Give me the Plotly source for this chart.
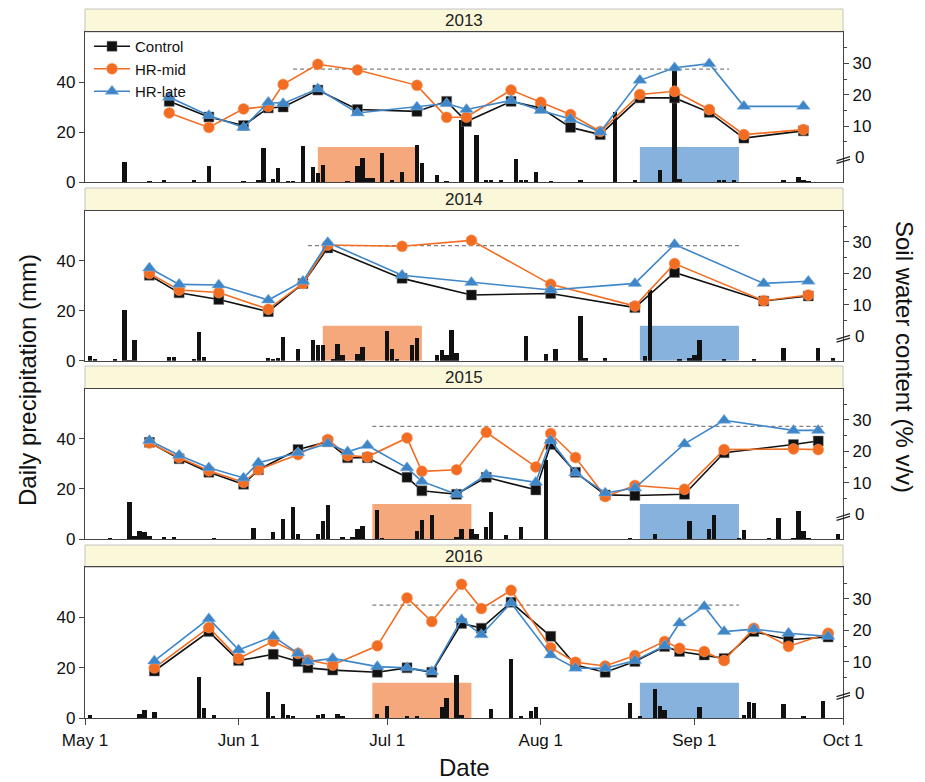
import plotly.graph_objects as go

YEARS = [2013, 2014, 2015, 2016]
MONTH_TICKS = ["05-01", "06-01", "07-01", "08-01", "09-01", "10-01"]
TICK_LABELS = ["May 1", "Jun 1", "Jul 1", "Aug 1", "Sep 1", "Oct 1"]

# ---------------- daily precipitation (mm) ----------------
rain_2013_dates = ["05-09", "05-14", "05-17", "05-23", "05-26", "06-02", "06-05", "06-06", "06-08", "06-09",
                   "06-11", "06-12", "06-14", "06-16", "06-17", "06-18", "06-23", "06-25", "06-26", "06-27",
                   "06-28", "06-30", "07-02", "07-04", "07-07", "07-08", "07-11", "07-13", "07-16", "07-19",
                   "07-21", "07-22", "07-24", "07-27", "07-28", "07-29", "07-31", "08-03", "08-09", "08-16",
                   "08-20", "08-25", "08-28", "08-29", "09-06", "09-07", "09-09", "09-19", "09-22", "09-23",
                   "09-24"]
rain_2013_mm = [8, 0.3, 0.5, 1, 6.5, 0.3, 1, 13.5, 1.3, 5.6,
                0.3, 0.3, 14.4, 6, 3.7, 7, 0.3, 6.4, 9.6, 1.7,
                1.7, 11.5, 1, 4, 14.7, 7.5, 3, 0.3, 25, 19,
                0.7, 0.7, 1, 9.3, 0.7, 1, 3.9, 0.3, 0.7, 28,
                1, 5, 47, 1.3, 0.5, 0.5, 0.7, 1, 1.9, 1,
                0.3]

rain_2014_dates = ["05-02", "05-03", "05-07", "05-09", "05-10", "05-11", "05-18", "05-19", "05-23", "05-24",
                   "05-25", "06-07", "06-08", "06-09", "06-10", "06-13", "06-16", "06-17", "06-18", "06-20",
                   "06-21", "06-22", "06-25", "06-26", "07-01", "07-02", "07-03", "07-06", "07-07", "07-11",
                   "07-12", "07-13", "07-14", "07-15", "07-29", "08-02", "08-04", "08-09", "08-10", "08-14",
                   "08-22", "08-23", "08-29", "08-31", "09-01", "09-02", "09-07", "09-13", "09-19", "09-26",
                   "09-29"]
rain_2014_mm = [2.2, 0.7, 0.7, 20.3, 0.5, 8.5, 1.5, 1.5, 1, 11.6,
                1.7, 1.3, 1, 1.3, 9.6, 4.7, 8.3, 6.5, 6.5, 0.7,
                6.8, 2.3, 2.9, 5.6, 11.9, 4.9, 0.7, 6.3, 9.3, 2.5,
                4.5, 2.5, 12.3, 3.2, 10, 2.9, 4.9, 17.9, 1.3, 1.3,
                2, 28.5, 0.7, 1.2, 2.3, 8.5, 0.7, 1, 5.2, 5.2,
                1.2]

rain_2015_dates = ["05-06", "05-10", "05-11", "05-12", "05-13", "05-14", "05-17", "05-19", "05-27", "06-04",
                   "06-08", "06-10", "06-12", "06-13", "06-17", "06-18", "06-19", "06-22", "06-24", "06-25",
                   "06-26", "06-29", "06-30", "07-07", "07-08", "07-10", "07-15", "07-16", "07-18", "07-19",
                   "07-21", "07-22", "07-25", "07-28", "08-02", "08-19", "08-24", "08-31", "09-04", "09-05",
                   "09-10", "09-11", "09-16", "09-18", "09-21", "09-22", "09-23", "09-24", "09-30"]
rain_2015_mm = [0.3, 14.9, 1.3, 3.2, 2.9, 1.2, 0.9, 0.9, 0.3, 4.7,
                2.9, 8, 12.9, 2, 2, 7.3, 13.6, 0.9, 0.9, 4.3,
                5.2, 11.6, 0.3, 3.2, 7.6, 9.6, 0.9, 4.3, 4, 2,
                5, 11, 1.6, 5, 31.6, 0.5, 2.3, 7.2, 4.3, 9.6,
                0.5, 3.6, 0.3, 8.7, 0.5, 11.3, 3.5, 0.5, 2]

rain_2016_dates = ["05-02", "05-12", "05-13", "05-15", "05-24", "05-25", "05-27", "06-07", "06-08", "06-10",
                   "06-11", "06-12", "06-17", "06-18", "06-21", "06-22", "06-29", "07-01", "07-05", "07-07",
                   "07-12", "07-13", "07-15", "07-16", "07-22", "07-26", "07-28", "07-30", "07-31", "08-19",
                   "08-21", "08-24", "08-25", "08-26", "09-02", "09-11", "09-12", "09-13", "09-19", "09-23",
                   "09-27"]
rain_2016_mm = [1.2, 1.3, 2.9, 2.3, 16.4, 3.9, 1.2, 10.1, 0.5, 5.6,
                1.2, 0.8, 0.9, 1.6, 1.6, 0.3, 1.3, 4.7, 0.8, 0.8,
                4.3, 7.7, 17.1, 1, 3.3, 23.3, 0.5, 2.5, 4.4, 5.7,
                0.5, 11.3, 4.5, 2.9, 4.3, 1.2, 6.4, 5.7, 5.6, 0.5,
                6.7]

# ---------------- soil water content (% v/v) ----------------
swc_2013_dates = ["05-18", "05-26", "06-02", "06-07", "06-10", "06-17", "06-25", "07-07", "07-13", "07-17",
                  "07-26", "08-01", "08-07", "08-13", "08-21", "08-28", "09-04", "09-11", "09-23"]
control_2013 = [17.9, 12.9, 10.2, 15.8, 16.1, 21.5, 15.3, 14.7, 17.9, 11.5,
                17.9, 15.8, 9.6, 7.3, 19.0, 19.0, 14.4, 6.2, 8.5]
hr_mid_2013 = [14.2, 9.6, 15.5, 16.3, 23.3, 29.7, 27.9, 23.0, 12.8, 12.9,
               21.5, 17.6, 13.7, 8.3, 20.1, 21.1, 15.3, 7.3, 8.9]
hr_late_2013 = [19.2, 13.4, 9.6, 17.6, 17.2, 21.9, 14.2, 16.1, 17.2, 15.3,
                18.2, 15.0, 12.3, 8.1, 24.6, 28.6, 29.9, 16.3, 16.3]

swc_2014_dates = ["05-14", "05-20", "05-28", "06-07", "06-14", "06-19", "07-04", "07-18", "08-03", "08-20",
                  "08-28", "09-15", "09-24"]
control_2014 = [19.4, 13.8, 11.7, 7.8, 16.8, 28.1, 18.4, 13.1, 13.6, 9.1, 20.3, 11.2, 12.8]
hr_mid_2014 = [20.0, 14.7, 13.9, 8.6, 16.8, 29.0, 28.6, 30.5, 16.5, 9.6, 23.1, 11.3, 13.1]
hr_late_2014 = [21.7, 16.5, 16.3, 11.5, 17.5, 29.8, 19.4, 17.1, 14.7, 16.8, 29.2, 16.8, 17.5]

swc_2015_dates = ["05-14", "05-20", "05-26", "06-02", "06-05", "06-13", "06-19", "06-23", "06-27", "07-05",
                  "07-08", "07-15", "07-21", "07-31", "08-03", "08-08", "08-14", "08-20", "08-30", "09-07",
                  "09-21", "09-26"]
control_2015 = [22.9, 17.7, 13.4, 9.6, 14.2, 20.6, 23.1, 18.0, 18.0, 11.8,
                7.5, 6.4, 11.8, 7.8, 22.2, 13.4, 6.2, 6.0, 6.4, 19.6,
                22.2, 23.3]
hr_mid_2015 = [22.7, 18.1, 13.9, 10.2, 14.2, 19.0, 23.8, 18.7, 18.3, 24.3,
               13.7, 14.2, 26.1, 15.1, 25.7, 18.1, 5.7, 9.2, 8.0, 20.6,
               20.8, 20.6]
hr_late_2015 = [23.5, 18.8, 14.8, 11.6, 16.4, 19.6, 22.5, 19.9, 21.9, 14.8,
                10.5, 6.4, 12.6, 10.2, 23.5, 13.2, 6.8, 8.4, 22.4, 29.9,
                26.7, 26.7]

swc_2016_dates = ["05-15", "05-26", "06-01", "06-08", "06-13", "06-15", "06-20", "06-29", "07-05", "07-10",
                  "07-16", "07-20", "07-26", "08-03", "08-08", "08-14", "08-20", "08-26", "08-29", "09-03",
                  "09-07", "09-13", "09-20", "09-28"]
control_2016 = [7.1, 19.6, 10.4, 12.4, 10.1, 8.1, 7.4, 6.7, 8.1, 6.7,
                22.2, 20.7, 28.9, 18.1, 9.0, 6.7, 10.1, 14.9, 13.3, 12.2,
                11.1, 19.6, 17.0, 17.9]
hr_mid_2016 = [8.1, 20.9, 11.1, 16.5, 12.7, 10.6, 9.0, 15.1, 30.3, 22.8,
               34.6, 26.9, 32.7, 14.5, 9.9, 8.7, 12.0, 16.5, 14.3, 13.3,
               10.4, 20.7, 14.9, 19.1]
hr_late_2016 = [10.3, 23.7, 13.8, 18.1, 12.7, 10.1, 11.1, 8.5, 8.1, 6.9,
                23.4, 18.6, 28.7, 12.2, 8.0, 8.0, 10.4, 15.1, 22.3, 27.6,
                19.6, 20.4, 19.1, 18.1]

# ---------------- treatment periods & reference level ----------------
hr_mid_start = ["06-17", "06-18", "06-28", "06-28"]
hr_mid_end = ["07-07", "07-08", "07-18", "07-18"]
hr_late_start = ["08-21", "08-21", "08-21", "08-21"]
hr_late_end = ["09-10", "09-10", "09-10", "09-10"]
ref_start = ["06-12", "06-15", "06-28", "06-28"]
ref_end = ["09-08", "09-10", "09-27", "09-10"]
ref_level = [28.2, 28.8, 28.0, 28.0]
PERIOD_TOP_MM = 14

rain_dates = [rain_2013_dates, rain_2014_dates, rain_2015_dates, rain_2016_dates]
rain_mm = [rain_2013_mm, rain_2014_mm, rain_2015_mm, rain_2016_mm]
swc_dates = [swc_2013_dates, swc_2014_dates, swc_2015_dates, swc_2016_dates]
control = [control_2013, control_2014, control_2015, control_2016]
hr_mid = [hr_mid_2013, hr_mid_2014, hr_mid_2015, hr_mid_2016]
hr_late = [hr_late_2013, hr_late_2014, hr_late_2015, hr_late_2016]

# ---------------- styling ----------------
FONT = "Liberation Sans, Arial, sans-serif"
BLACK = "#111111"
ORANGE = "#F26D21"
BLUE = "#3E86C8"
ORANGE_FILL = "#F5A87B"
BLUE_FILL = "#87B2DD"
AX = "#444444"

W, H = 925, 782
ML, MR, MT, MB = 85, 82, 9, 64
PH = H - MT - MB


def py(px):
    return (H - MB - px) / PH


def pxx(px):
    return (px - ML) / (W - ML - MR)


strip_tops = [9, 188, 366, 545]
plot_tops = [32, 210.5, 388.5, 567.3]
plot_bottoms = [182, 360.7, 539, 718]

fig = go.Figure()
layout = dict(
    width=W, height=H,
    margin=dict(l=ML, r=MR, t=MT, b=MB),
    paper_bgcolor="white", plot_bgcolor="white",
    font=dict(family=FONT, size=17, color="#111"),
    showlegend=True,
    legend=dict(x=pxx(89), y=py(30), xanchor="left", yanchor="top",
                bgcolor="rgba(0,0,0,0)", font=dict(size=15), tracegroupgap=0,
                itemwidth=36),
    bargap=0,
)
shapes = []
annotations = []

for i, yr in enumerate(YEARS):
    k = i + 1
    xa = "x" if k == 1 else f"x{k}"
    yl = "y" if k == 1 else f"y{k}"
    yr_ax = f"y{k + 4}"
    dom = [py(plot_bottoms[i]), py(plot_tops[i])]
    last = (i == len(YEARS) - 1)

    layout["xaxis" if k == 1 else f"xaxis{k}"] = dict(
        domain=[0, 1], anchor=yl, type="date",
        range=[f"{yr}-05-01", f"{yr}-10-01"],
        tickvals=[f"{yr}-{m}" for m in MONTH_TICKS],
        ticktext=TICK_LABELS,
        showticklabels=last, ticks="outside" if last else "",
        ticklen=6, tickcolor=AX,
        showline=True, mirror=True, linecolor=AX, linewidth=1.3,
        showgrid=False, zeroline=False, tickfont=dict(size=17),
    )
    layout["yaxis" if k == 1 else f"yaxis{k}"] = dict(
        domain=dom, anchor=xa, range=[0, 60],
        tickvals=[0, 20, 40], ticks="outside", ticklen=5, tickcolor=AX,
        showline=True, linecolor=AX, linewidth=1.3,
        showgrid=False, zeroline=False, tickfont=dict(size=17),
    )
    layout[f"yaxis{k + 4}"] = dict(
        overlaying=yl, anchor=xa, side="right", range=[-7.8, 40],
        tickvals=[10, 20, 30], ticks="outside", ticklen=5, tickcolor=AX,
        minor=dict(tickvals=[5, 15, 25, 35], ticks="outside", ticklen=3, tickcolor=AX),
        showline=True, linecolor=AX, linewidth=1.3,
        showgrid=False, zeroline=False, tickfont=dict(size=17),
    )

    # header strip
    shapes.append(dict(type="rect", xref="paper", yref="paper", x0=0, x1=1,
                       y0=py(plot_tops[i]), y1=py(strip_tops[i]),
                       fillcolor="#FBF7D9", line=dict(color="#C4C4C4", width=1), layer="below"))
    annotations.append(dict(xref="paper", yref="paper", x=0.5,
                            y=(py(plot_tops[i]) + py(strip_tops[i])) / 2,
                            text=str(yr), showarrow=False, font=dict(size=17, color="#222"),
                            xanchor="center", yanchor="middle"))

    # treatment periods
    shapes.append(dict(type="rect", xref=xa, yref=yl,
                       x0=f"{yr}-{hr_mid_start[i]}", x1=f"{yr}-{hr_mid_end[i]}",
                       y0=0, y1=PERIOD_TOP_MM, fillcolor=ORANGE_FILL, line=dict(width=0), layer="below"))
    shapes.append(dict(type="rect", xref=xa, yref=yl,
                       x0=f"{yr}-{hr_late_start[i]}", x1=f"{yr}-{hr_late_end[i]}",
                       y0=0, y1=PERIOD_TOP_MM, fillcolor=BLUE_FILL, line=dict(width=0), layer="below"))
    # reference dashed line
    shapes.append(dict(type="line", xref=xa, yref=yr_ax,
                       x0=f"{yr}-{ref_start[i]}", x1=f"{yr}-{ref_end[i]}",
                       y0=ref_level[i], y1=ref_level[i],
                       line=dict(color="#808080", width=1.3, dash="4px,3px"), layer="below"))
    # axis break marks
    for off in (0.0, 0.85):
        shapes.append(dict(type="line", xref="paper", yref=yr_ax,
                           x0=pxx(836.5), x1=pxx(850), y0=-1.9 + off, y1=-0.6 + off,
                           line=dict(color="#222", width=1.3)))
    annotations.append(dict(xref="paper", yref=yr_ax, x=1, y=0, xshift=10,
                            text="0", showarrow=False, xanchor="left", yanchor="middle",
                            font=dict(size=17)))

    # precipitation bars
    fig.add_trace(go.Bar(
        x=[f"{yr}-{d}" for d in rain_dates[i]], y=rain_mm[i],
        width=0.88 * 86400000, marker=dict(color=BLACK, line=dict(width=0)),
        xaxis=xa, yaxis=yl, showlegend=False, name="Precipitation"))

    xs = [f"{yr}-{d}" for d in swc_dates[i]]
    fig.add_trace(go.Scatter(
        x=xs, y=control[i], mode="lines+markers", name="Control", legendgroup="c",
        showlegend=(i == 0), line=dict(color=BLACK, width=1.6),
        marker=dict(symbol="square", size=10, color=BLACK, line=dict(color="#777", width=0.5)),
        xaxis=xa, yaxis=yr_ax))
    fig.add_trace(go.Scatter(
        x=xs, y=hr_mid[i], mode="lines+markers", name="HR-mid", legendgroup="m",
        showlegend=(i == 0), line=dict(color=ORANGE, width=1.6),
        marker=dict(symbol="circle", size=11, color=ORANGE, line=dict(color="#F7A070", width=0.5)),
        xaxis=xa, yaxis=yr_ax))
    fig.add_trace(go.Scatter(
        x=xs, y=hr_late[i], mode="lines+markers", name="HR-late", legendgroup="l",
        showlegend=(i == 0), line=dict(color=BLUE, width=1.6),
        marker=dict(symbol="triangle-up", size=12, color=BLUE, line=dict(color="#8DB8E3", width=0.5)),
        xaxis=xa, yaxis=yr_ax))

annotations.append(dict(xref="paper", yref="paper", x=pxx(27), y=py(380),
                        text="Daily precipitation (mm)", showarrow=False, textangle=-90,
                        font=dict(size=24), xanchor="center", yanchor="middle"))
annotations.append(dict(xref="paper", yref="paper", x=pxx(905), y=py(357),
                        text="Soil water content (% v/v)", showarrow=False, textangle=90,
                        font=dict(size=24), xanchor="center", yanchor="middle"))
annotations.append(dict(xref="paper", yref="paper", x=pxx(464), y=py(767),
                        text="Date", showarrow=False,
                        font=dict(size=24), xanchor="center", yanchor="middle"))

layout["shapes"] = shapes
layout["annotations"] = annotations
fig.update_layout(**layout)
fig.write_html("out.html")
